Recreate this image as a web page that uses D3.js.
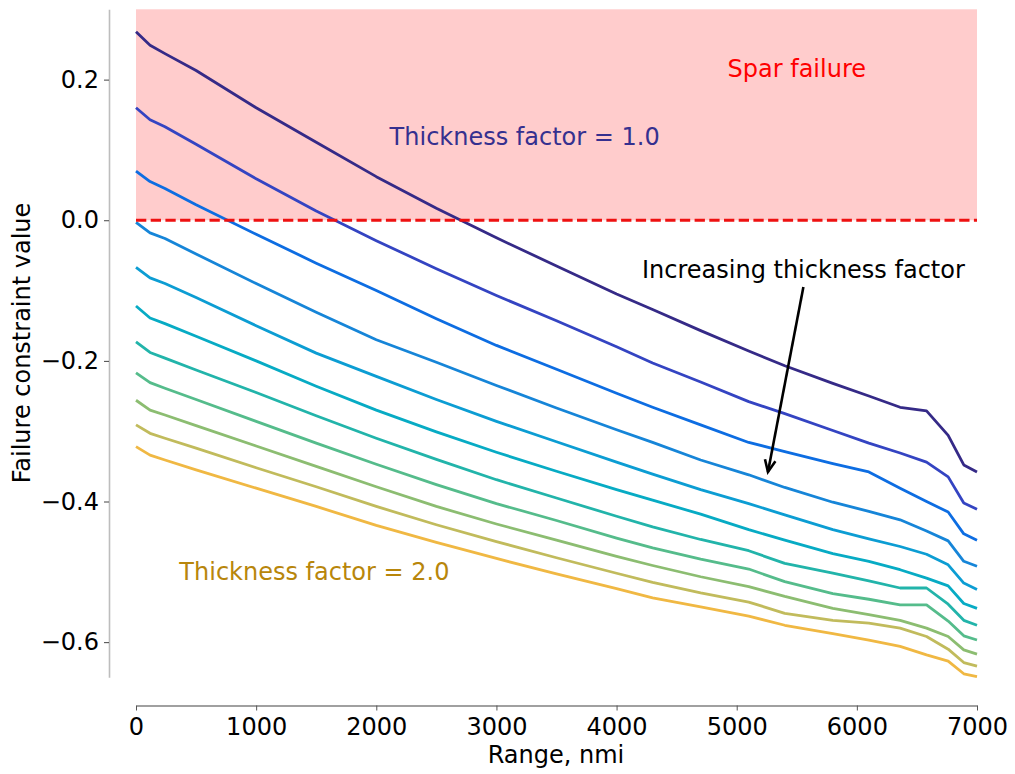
<!DOCTYPE html>
<html>
<head>
<meta charset="utf-8">
<script src="https://cdn.jsdelivr.net/npm/d3@7"></script>
<style>
  body { margin: 0; background: #fff; }
  svg { display: block; font-family: "DejaVu Sans", sans-serif; }
</style>
</head>
<body>
<svg id="chart" width="1015" height="774"></svg>
<script>
// Range samples (nmi)
const ranges = [0, 117, 241, 500, 1000, 1500, 2000, 2500, 3000, 3500, 4000, 4300,
  4700, 5100, 5400, 5800, 6100, 6360, 6580, 6760, 6890, 7000];

// Thickness factors, one curve each
const thicknessFactors = [1.0, 1.1, 1.2, 1.3, 1.4, 1.5, 1.6, 1.7, 1.8, 1.9, 2.0];

// Failure constraint value per thickness factor (rows) and range (columns)
const tf10 = [0.268, 0.249, 0.237, 0.213, 0.160, 0.111, 0.062, 0.017, -0.025, -0.065, -0.105, -0.127, -0.157, -0.186, -0.207, -0.232, -0.250, -0.266, -0.271, -0.306, -0.348, -0.358];
const tf11 = [0.160, 0.143, 0.133, 0.108, 0.059, 0.013, -0.029, -0.069, -0.107, -0.143, -0.180, -0.203, -0.230, -0.258, -0.275, -0.299, -0.317, -0.331, -0.344, -0.365, -0.402, -0.411];
const tf12 = [0.070, 0.055, 0.045, 0.022, -0.020, -0.061, -0.100, -0.140, -0.178, -0.212, -0.246, -0.266, -0.291, -0.316, -0.329, -0.346, -0.358, -0.381, -0.400, -0.415, -0.446, -0.455];
const tf13 = [-0.003, -0.018, -0.026, -0.048, -0.090, -0.131, -0.170, -0.202, -0.235, -0.267, -0.298, -0.316, -0.341, -0.362, -0.380, -0.401, -0.414, -0.426, -0.442, -0.456, -0.485, -0.492];
const tf14 = [-0.067, -0.082, -0.090, -0.110, -0.150, -0.189, -0.222, -0.255, -0.286, -0.315, -0.344, -0.361, -0.383, -0.403, -0.419, -0.440, -0.453, -0.464, -0.475, -0.490, -0.516, -0.525];
const tf15 = [-0.122, -0.139, -0.147, -0.165, -0.200, -0.236, -0.270, -0.301, -0.330, -0.357, -0.383, -0.398, -0.418, -0.440, -0.455, -0.474, -0.485, -0.497, -0.509, -0.520, -0.545, -0.552];
const tf16 = [-0.173, -0.188, -0.196, -0.213, -0.245, -0.278, -0.310, -0.340, -0.369, -0.395, -0.421, -0.436, -0.454, -0.470, -0.488, -0.502, -0.513, -0.523, -0.523, -0.546, -0.569, -0.576];
const tf17 = [-0.217, -0.231, -0.239, -0.255, -0.286, -0.317, -0.347, -0.376, -0.403, -0.427, -0.452, -0.466, -0.482, -0.496, -0.514, -0.531, -0.539, -0.547, -0.547, -0.570, -0.591, -0.597];
const tf18 = [-0.256, -0.270, -0.277, -0.292, -0.321, -0.350, -0.379, -0.407, -0.432, -0.455, -0.478, -0.491, -0.507, -0.521, -0.535, -0.552, -0.561, -0.569, -0.580, -0.592, -0.611, -0.617];
const tf19 = [-0.291, -0.303, -0.310, -0.324, -0.352, -0.379, -0.407, -0.433, -0.457, -0.480, -0.502, -0.515, -0.530, -0.543, -0.559, -0.569, -0.573, -0.580, -0.592, -0.610, -0.629, -0.634];
const tf20 = [-0.322, -0.334, -0.341, -0.355, -0.381, -0.407, -0.434, -0.458, -0.481, -0.503, -0.524, -0.537, -0.550, -0.563, -0.576, -0.588, -0.597, -0.606, -0.618, -0.627, -0.645, -0.649];
const constraintValues = [tf10, tf11, tf12, tf13, tf14, tf15, tf16, tf17, tf18, tf19, tf20];

const xTicks = [0, 1000, 2000, 3000, 4000, 5000, 6000, 7000];
const yTicks = [-0.6, -0.4, -0.2, 0.0, 0.2];

const lineColors = ['#352a87', '#3444c2', '#0d6de2', '#1685d8', '#0c9dd3', '#07abc4',
  '#22b4aa', '#55bc8b', '#8cbd71', '#c1bb5c', '#f0b843'];

const FONT = 24;
const svg = d3.select('#chart');

const x = d3.scaleLinear().domain([0, 7000]).range([136, 977]);
const y = d3.scaleLinear().domain([-0.65, 0.3]).range([677.3, 9.3]);

// Failure region
svg.append('rect')
  .attr('x', x(0))
  .attr('y', y(0.3))
  .attr('width', x(7000) - x(0))
  .attr('height', y(0) - y(0.3))
  .attr('fill', '#ffcccc');

// Curves
const line = d3.line()
  .x((d, i) => x(ranges[i]))
  .y((d) => y(d));

svg.append('g')
  .selectAll('path')
  .data(constraintValues)
  .join('path')
  .attr('d', line)
  .attr('fill', 'none')
  .attr('stroke', (d, i) => lineColors[i])
  .attr('stroke-width', 2.8)
  .attr('stroke-linejoin', 'round');

// Failure threshold
svg.append('line')
  .attr('x1', x(0))
  .attr('x2', x(7000))
  .attr('y1', y(0))
  .attr('y2', y(0))
  .attr('stroke', '#ee1111')
  .attr('stroke-width', 2.8)
  .attr('stroke-dasharray', '10.3,4.4');

// Axes (offset spines)
const yAxis = svg.append('g')
  .attr('transform', 'translate(109,0)')
  .call(d3.axisLeft(y).tickValues(yTicks).tickSize(5).tickSizeOuter(0).tickPadding(5)
    .tickFormat((d) => d3.format('.1f')(d).replace('-', '\u2212')));
yAxis.select('.domain').attr('stroke', '#bdbdbd').attr('stroke-width', 1.6);
yAxis.selectAll('.tick line').attr('stroke', '#444').attr('stroke-width', 1);
yAxis.selectAll('.tick text').attr('font-size', FONT).attr('fill', '#000')
  .attr('font-family', '"DejaVu Sans", sans-serif');

const xAxis = svg.append('g')
  .attr('transform', 'translate(0,705.5)')
  .call(d3.axisBottom(x).tickValues(xTicks).tickSize(5).tickSizeOuter(0).tickPadding(7.5)
    .tickFormat(d3.format('d')));
xAxis.select('.domain').attr('stroke', '#808080').attr('stroke-width', 1.3);
xAxis.selectAll('.tick line').attr('stroke', '#555').attr('stroke-width', 1);
xAxis.selectAll('.tick text').attr('font-size', FONT).attr('fill', '#000')
  .attr('font-family', '"DejaVu Sans", sans-serif');

// Axis titles
svg.append('text')
  .attr('x', 556)
  .attr('y', 763)
  .attr('text-anchor', 'middle')
  .attr('font-size', FONT)
  .text('Range, nmi');

svg.append('text')
  .attr('transform', 'translate(30,343) rotate(-90)')
  .attr('text-anchor', 'middle')
  .attr('font-size', FONT)
  .text('Failure constraint value');

// Annotations
svg.append('text')
  .attr('x', x(5500))
  .attr('y', y(0.2) - 3)
  .attr('text-anchor', 'middle')
  .attr('font-size', FONT)
  .attr('fill', '#ff0000')
  .text('Spar failure');

svg.append('text')
  .attr('x', x(3235))
  .attr('y', y(0.12) + 9)
  .attr('text-anchor', 'middle')
  .attr('font-size', FONT)
  .attr('fill', '#35308f')
  .text('Thickness factor = 1.0');

svg.append('text')
  .attr('x', x(1485))
  .attr('y', y(-0.5) + 8)
  .attr('text-anchor', 'middle')
  .attr('font-size', FONT)
  .attr('fill', '#b8860b')
  .text('Thickness factor = 2.0');

svg.append('text')
  .attr('x', x(5555))
  .attr('y', y(-0.07) + 9)
  .attr('text-anchor', 'middle')
  .attr('font-size', FONT)
  .attr('fill', '#000')
  .text('Increasing thickness factor');

// Arrow pointing toward thicker curves
const a0 = [x(5555), y(-0.095)];
const a1 = [x(5260), y(-0.358)];
const ang = Math.atan2(a1[1] - a0[1], a1[0] - a0[0]);
const head = 13;
const spread = 0.42;
svg.append('line')
  .attr('x1', a0[0]).attr('y1', a0[1])
  .attr('x2', a1[0]).attr('y2', a1[1])
  .attr('stroke', '#000')
  .attr('stroke-width', 2.6);
svg.append('path')
  .attr('d', d3.line()([
    [a1[0] - head * Math.cos(ang - spread), a1[1] - head * Math.sin(ang - spread)],
    a1,
    [a1[0] - head * Math.cos(ang + spread), a1[1] - head * Math.sin(ang + spread)]
  ]))
  .attr('fill', 'none')
  .attr('stroke', '#000')
  .attr('stroke-width', 2.6)
  .attr('stroke-linejoin', 'miter');
</script>
</body>
</html>
